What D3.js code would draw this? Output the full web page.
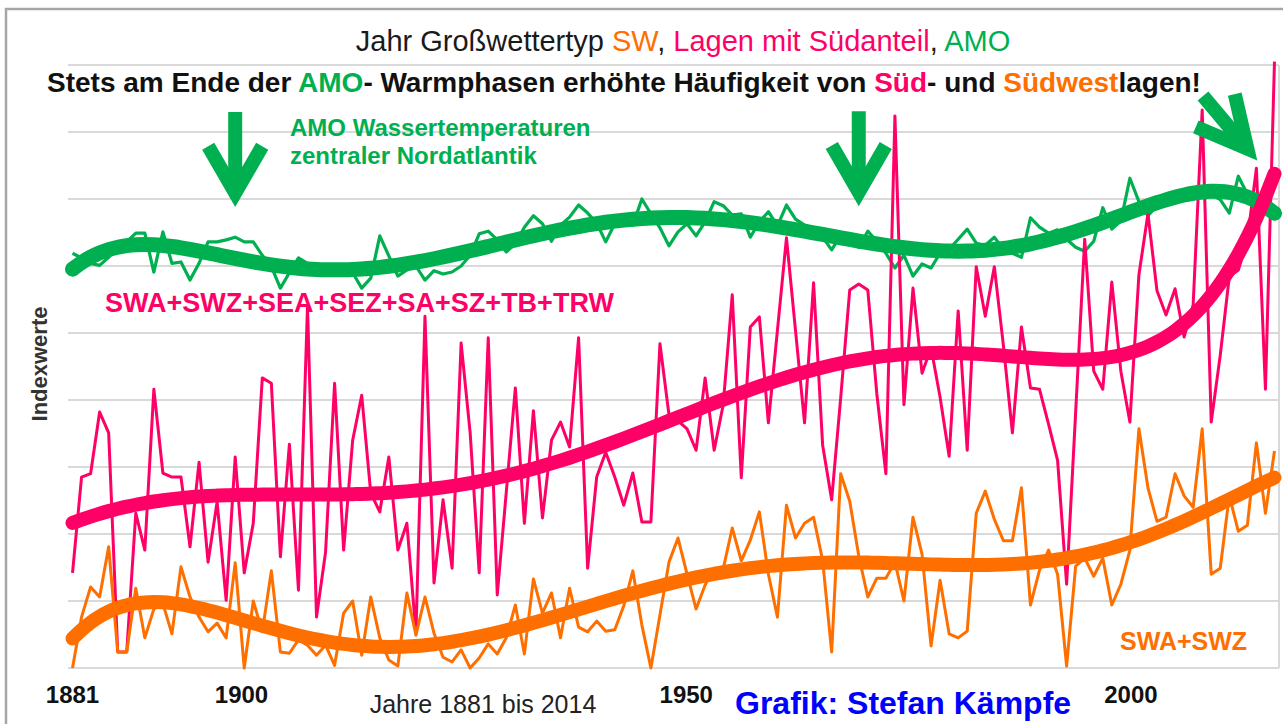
<!DOCTYPE html>
<html>
<head>
<meta charset="utf-8">
<script src="https://cdn.jsdelivr.net/npm/d3@7"></script>
<style>
body{margin:0;background:#fff;}
svg{display:block;font-family:Arial,"Liberation Sans",sans-serif;}
</style>
</head>
<body>
<div id="chart"></div>
<script>
// Jahre 1881 bis 2014
var years = d3.range(1881, 2015);

// SWA+SWZ+SEA+SEZ+SA+SZ+TB+TRW (Indexwerte)
var suedLagen = [
1.42,2.85,2.90,3.82,3.51,0.24,0.24,2.31,1.76,4.16,
2.91,2.85,2.85,1.81,3.07,1.58,2.48,1.01,3.15,1.42,
2.16,4.33,4.25,1.66,3.34,1.16,5.39,0.76,1.73,4.25,
1.76,3.40,4.07,2.61,2.33,3.15,1.76,2.16,0.52,5.25,
1.27,2.51,1.49,4.85,3.51,1.42,4.93,1.09,2.63,4.18,
2.16,3.84,2.24,3.40,3.67,3.30,4.93,1.49,2.85,3.22,
2.85,2.43,2.91,2.18,2.18,4.84,3.78,3.69,3.57,3.25,
4.33,3.25,3.93,5.57,2.84,5.09,5.24,3.66,5.04,6.42,
5.04,3.66,5.75,3.33,2.51,4.03,5.64,5.73,5.64,4.09,
2.90,8.24,3.93,5.67,4.40,4.78,4.04,3.16,5.33,3.25,
5.99,5.25,5.99,4.82,3.51,5.09,4.18,4.16,3.64,3.10,
1.25,3.82,6.40,4.43,4.16,5.76,4.43,3.67,5.87,6.78,
5.63,5.27,5.66,4.94,5.42,8.33,3.67,4.67,5.84,5.94,
6.39,7.46,4.16,9.05];

// SWA+SWZ
var swLagen = [
0.00,0.76,1.21,1.06,1.81,0.24,0.24,1.19,0.45,0.88,
0.96,0.51,1.51,1.06,0.76,0.54,0.67,0.45,1.57,0.00,
1.00,0.54,1.45,0.24,0.22,0.42,0.34,0.19,0.34,0.04,
0.82,1.00,0.19,1.06,0.45,0.12,0.03,1.12,0.49,1.06,
0.52,0.16,0.09,0.27,0.00,0.15,0.36,0.21,0.45,0.94,
0.21,1.33,0.82,1.12,0.45,1.19,0.61,0.54,0.70,0.55,
0.57,0.93,1.45,0.64,0.00,0.79,1.58,1.94,1.40,0.88,
1.24,1.49,1.48,2.09,1.60,1.91,2.33,1.40,0.76,2.43,
1.94,2.16,2.25,1.61,0.24,2.90,2.49,1.67,1.06,1.34,
1.34,1.58,1.00,2.25,1.70,0.33,1.31,0.51,0.45,0.55,
2.31,2.64,2.22,1.90,1.90,2.69,0.94,1.46,1.76,1.40,
0.03,1.52,1.64,1.37,1.64,0.94,1.25,1.76,3.57,2.69,
2.19,2.25,2.90,2.57,2.40,3.57,1.40,1.49,2.57,2.04,
2.13,3.36,2.31,3.24];

// AMO Wassertemperaturen zentraler Nordatlantik
var amo = [
6.19,6.12,6.04,6.01,6.13,6.28,6.36,6.49,6.49,5.91,
6.51,6.04,6.06,5.79,6.04,6.36,6.36,6.39,6.43,6.36,
6.36,6.16,5.99,5.67,5.90,6.12,6.04,5.97,5.91,5.97,
5.99,5.90,5.67,5.82,6.45,6.15,5.85,5.94,6.00,5.79,
5.93,5.88,5.91,6.00,6.16,6.48,6.52,6.39,6.21,6.33,
6.58,6.75,6.63,6.37,6.61,6.73,6.91,6.79,6.64,6.36,
6.63,6.69,6.61,7.00,6.78,6.57,6.30,6.51,6.63,6.45,
6.66,6.96,6.90,6.76,6.78,6.43,6.66,6.81,6.60,6.91,
6.70,6.61,6.55,6.43,6.24,6.46,6.40,6.28,6.52,6.37,
6.19,5.97,6.16,5.85,6.03,5.97,6.19,6.25,6.40,6.55,
6.34,6.31,6.43,6.25,6.19,6.13,6.72,6.58,6.49,6.54,
6.40,6.28,6.22,6.37,6.87,6.55,6.67,7.31,6.96,6.75,
6.90,7.01,7.07,7.10,7.10,7.04,7.07,6.99,6.79,7.34,
7.07,6.99,6.90,6.81];

var xTickYears = [1881, 1900, 1950, 2000];

// Pfeile: Jahr und Indexwert der Spitze, Richtung
var arrowYears = [1899, 1968, 2011];
var arrowTips = [7.09, 7.10, 7.75];
var arrowDirs = [90, 90, 50];

var width = 1283, height = 724;
var plotL = 68, plotR = 1279, plotT = 65, plotB = 668;

var green = "#00b050", pink = "#ff0066", orange = "#ff6f00";

var svg = d3.select("#chart").append("svg")
  .attr("width", width)
  .attr("height", height);

svg.append("rect").attr("width", width).attr("height", height).attr("fill", "#fff");

// aeusserer Rahmen
svg.append("rect")
  .attr("x", 6).attr("y", 9)
  .attr("width", width + 20).attr("height", height + 20)
  .attr("fill", "none").attr("stroke", "#a6a6a6").attr("stroke-width", 2.5);

var x = d3.scalePoint().domain(years).range([plotL, plotR]).padding(0.5);
var y = d3.scaleLinear().domain([0, 9]).range([plotB, plotT]);

// Gitterlinien
svg.append("g").selectAll("line")
  .data(y.ticks(9))
  .enter().append("line")
  .attr("x1", plotL).attr("x2", plotR)
  .attr("y1", function(d){ return y(d); })
  .attr("y2", function(d){ return y(d); })
  .attr("stroke", "#d9d9d9").attr("stroke-width", 2);

svg.append("line").attr("x1", plotR).attr("x2", plotR)
  .attr("y1", plotT).attr("y2", plotB)
  .attr("stroke", "#d9d9d9").attr("stroke-width", 2);

// polynomischer Trend 6. Ordnung (wie Excel)
function polyfit(ys, deg) {
  var n = deg + 1, A = [], b = [];
  for (var j = 0; j < n; j++) { A.push(new Array(n).fill(0)); b.push(0); }
  years.forEach(function(yr, i) {
    var t = (yr - 1947.5) / 66.5;
    for (var j = 0; j < n; j++) {
      b[j] += ys[i] * Math.pow(t, j);
      for (var k = 0; k < n; k++) A[j][k] += Math.pow(t, j + k);
    }
  });
  for (var c = 0; c < n; c++) {
    var p = c;
    for (var r = c + 1; r < n; r++) if (Math.abs(A[r][c]) > Math.abs(A[p][c])) p = r;
    var tmp = A[c]; A[c] = A[p]; A[p] = tmp;
    var tb = b[c]; b[c] = b[p]; b[p] = tb;
    for (var r2 = c + 1; r2 < n; r2++) {
      var f = A[r2][c] / A[c][c];
      for (var k2 = c; k2 < n; k2++) A[r2][k2] -= f * A[c][k2];
      b[r2] -= f * b[c];
    }
  }
  var coef = new Array(n).fill(0);
  for (var r3 = n - 1; r3 >= 0; r3--) {
    var s = b[r3];
    for (var k3 = r3 + 1; k3 < n; k3++) s -= A[r3][k3] * coef[k3];
    coef[r3] = s / A[r3][r3];
  }
  return years.map(function(yr) {
    var t = (yr - 1947.5) / 66.5, v = 0;
    for (var j = 0; j < n; j++) v += coef[j] * Math.pow(t, j);
    return v;
  });
}

var line = d3.line()
  .x(function(d, i){ return x(years[i]); })
  .y(function(d){ return y(d); });

var smooth = d3.line()
  .x(function(d, i){ return x(years[i]); })
  .y(function(d){ return y(d); })
  .curve(d3.curveBasis);

// Texte im Diagramm
svg.append("text")
  .attr("x", 683).attr("y", 51)
  .attr("text-anchor", "middle")
  .style("font-size", "29px").attr("fill", "#1a1a1a")
  .html('Jahr Großwettertyp <tspan fill="' + orange + '">SW</tspan>, <tspan fill="' + pink + '">Lagen mit Südanteil</tspan>, <tspan fill="' + green + '">AMO</tspan>');

svg.append("text")
  .attr("x", 47).attr("y", 92)
  .style("font-size", "28px").style("font-weight", "bold").attr("fill", "#111")
  .html('Stets am Ende der <tspan fill="' + green + '">AMO</tspan>- Warmphasen erhöhte Häufigkeit von <tspan fill="' + pink + '">Süd</tspan>- und <tspan fill="' + orange + '">Südwest</tspan>lagen!');

var amoLabel = svg.append("text")
  .attr("x", 290).attr("y", 136)
  .style("font-size", "24px").style("font-weight", "bold").attr("fill", green);
amoLabel.append("tspan").attr("x", 290).text("AMO Wassertemperaturen");
amoLabel.append("tspan").attr("x", 290).attr("dy", 28).text("zentraler Nordatlantik");

svg.append("text")
  .attr("x", 105).attr("y", 312)
  .style("font-size", "27px").style("font-weight", "bold").attr("fill", pink)
  .text("SWA+SWZ+SEA+SEZ+SA+SZ+TB+TRW");

svg.append("text")
  .attr("x", 1120).attr("y", 650)
  .style("font-size", "25px").style("font-weight", "bold").attr("fill", orange)
  .text("SWA+SWZ");

// Datenreihen
svg.append("path").datum(amo)
  .attr("d", line).attr("fill", "none")
  .attr("stroke", green).attr("stroke-width", 3.2).attr("stroke-linejoin", "round");
svg.append("path").datum(suedLagen)
  .attr("d", line).attr("fill", "none")
  .attr("stroke", pink).attr("stroke-width", 3).attr("stroke-linejoin", "round");
svg.append("path").datum(swLagen)
  .attr("d", line).attr("fill", "none")
  .attr("stroke", orange).attr("stroke-width", 3).attr("stroke-linejoin", "round");

// Trends
svg.append("path").datum(polyfit(amo, 6))
  .attr("d", smooth).attr("fill", "none")
  .attr("stroke", green).attr("stroke-width", 15).attr("stroke-linecap", "round");
svg.append("path").datum(polyfit(swLagen, 6))
  .attr("d", smooth).attr("fill", "none")
  .attr("stroke", orange).attr("stroke-width", 14).attr("stroke-linecap", "round");
svg.append("path").datum(polyfit(suedLagen, 6))
  .attr("d", smooth).attr("fill", "none")
  .attr("stroke", pink).attr("stroke-width", 14).attr("stroke-linecap", "round");

// Pfeile
var arrowG = svg.append("g").attr("fill", "none").attr("stroke", green)
  .attr("stroke-width", 14);
arrowYears.forEach(function(yr, i) {
  var tx = x(yr), ty = y(arrowTips[i]);
  var a = arrowDirs[i] * Math.PI / 180;
  var shaft = i == 2 ? 69 : 81;
  var arm = i == 2 ? 56 : 54;
  var spread = (i == 2 ? 27 : 30) * Math.PI / 180;
  var back = a + Math.PI;
  var sx = tx - shaft * Math.cos(a), sy = ty - shaft * Math.sin(a);
  var ex = tx - 14 * Math.cos(a), ey = ty - 14 * Math.sin(a);
  arrowG.append("path").attr("d", "M" + sx + "," + sy + "L" + ex + "," + ey);
  arrowG.append("path")
    .attr("stroke-linejoin", "miter")
    .attr("d", "M" + (tx + arm * Math.cos(back - spread)) + "," + (ty + arm * Math.sin(back - spread)) +
      "L" + tx + "," + ty +
      "L" + (tx + arm * Math.cos(back + spread)) + "," + (ty + arm * Math.sin(back + spread)));
});

// Achsenbeschriftung
var labelX = d3.scaleLinear().domain([1881, 2000]).range([x(1881), x(2000) - 17]);
svg.append("g").selectAll("text")
  .data(xTickYears)
  .enter().append("text")
  .attr("x", function(d){ return labelX(d); })
  .attr("y", 703)
  .attr("text-anchor", "middle")
  .style("font-size", "24px").style("font-weight", "bold").attr("fill", "#111")
  .text(function(d){ return d; });

svg.append("text")
  .attr("x", 483).attr("y", 713)
  .attr("text-anchor", "middle")
  .style("font-size", "25px").attr("fill", "#222")
  .text("Jahre 1881 bis 2014");

svg.append("text")
  .attr("x", 735).attr("y", 714)
  .style("font-size", "32px").style("font-weight", "bold").attr("fill", "#0000ff")
  .text("Grafik: Stefan Kämpfe");

svg.append("text")
  .attr("transform", "translate(47,364) rotate(-90)")
  .attr("text-anchor", "middle")
  .style("font-size", "22px").style("font-weight", "bold").attr("fill", "#333")
  .text("Indexwerte");
</script>
</body>
</html>
